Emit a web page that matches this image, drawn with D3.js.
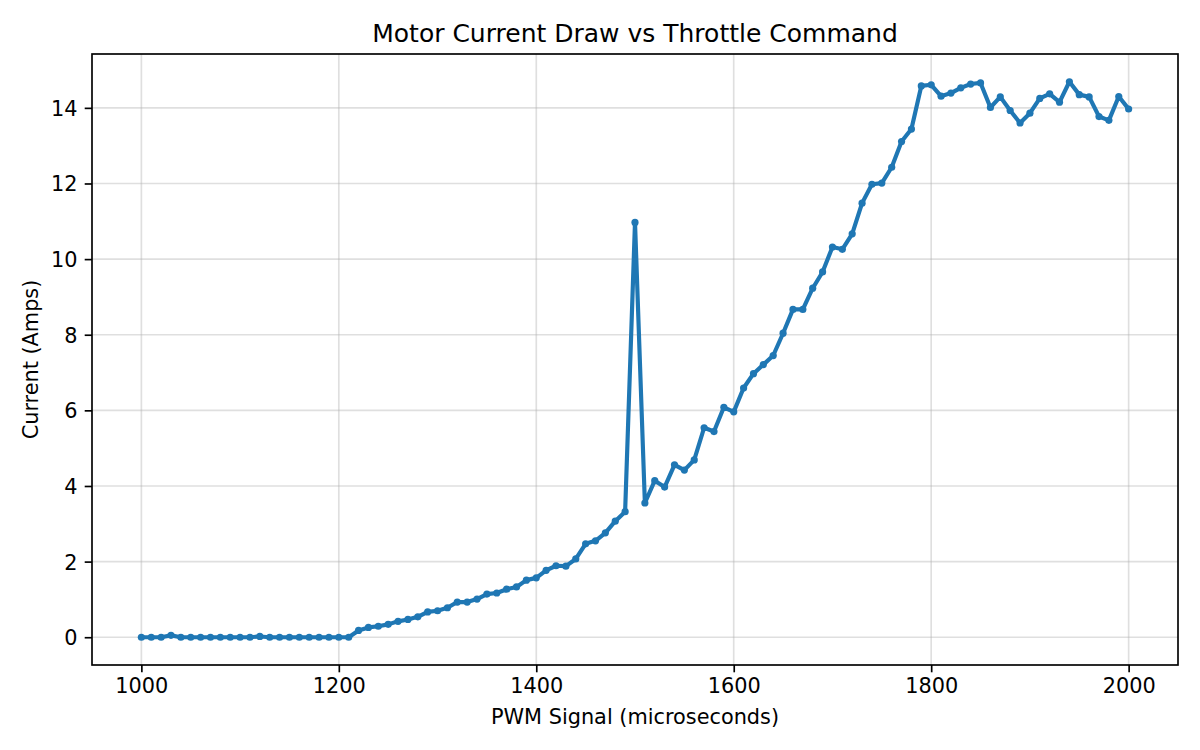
<!DOCTYPE html>
<html>
<head>
<meta charset="utf-8">
<script src="https://cdn.jsdelivr.net/npm/d3@7/dist/d3.min.js"></script>
<style>
  html, body { margin: 0; padding: 0; background: #fff; }
  svg { display: block; }
  text { font-family: "DejaVu Sans", sans-serif; fill: #000; }
</style>
</head>
<body>
<svg id="chart" width="1200" height="750"></svg>
<script>
// PWM signal (microseconds)
const pwm = [
  1000,1010,1020,1030,1040,1050,1060,1070,1080,1090,
  1100,1110,1120,1130,1140,1150,1160,1170,1180,1190,
  1200,1210,1220,1230,1240,1250,1260,1270,1280,1290,
  1300,1310,1320,1330,1340,1350,1360,1370,1380,1390,
  1400,1410,1420,1430,1440,1450,1460,1470,1480,1490,
  1500,1510,1520,1530,1540,1550,1560,1570,1580,1590,
  1600,1610,1620,1630,1640,1650,1660,1670,1680,1690,
  1700,1710,1720,1730,1740,1750,1760,1770,1780,1790,
  1800,1810,1820,1830,1840,1850,1860,1870,1880,1890,
  1900,1910,1920,1930,1940,1950,1960,1970,1980,1990,
  2000
];
// Current (Amps)
const current = [
  0.00,0.00,0.00,0.05,0.00,0.00,0.00,0.00,0.00,0.00,
  0.00,0.00,0.02,0.00,0.00,0.00,0.00,0.00,0.00,0.00,
  0.00,0.00,0.18,0.26,0.29,0.34,0.42,0.47,0.54,0.67,
  0.70,0.78,0.93,0.93,1.01,1.14,1.17,1.27,1.33,1.51,
  1.57,1.77,1.89,1.88,2.07,2.47,2.55,2.76,3.07,3.32,
  10.97,3.55,4.14,3.97,4.56,4.42,4.69,5.54,5.44,6.08,
  5.96,6.59,6.97,7.21,7.45,8.04,8.67,8.67,9.23,9.66,
  10.32,10.26,10.67,11.48,11.98,12.01,12.43,13.11,13.44,14.58,
  14.61,14.31,14.39,14.53,14.63,14.66,14.01,14.29,13.93,13.60,
  13.86,14.25,14.37,14.15,14.69,14.35,14.29,13.77,13.67,14.30,
  13.97
];
const xTicks = [1000, 1200, 1400, 1600, 1800, 2000];
const yTicks = [0, 2, 4, 6, 8, 10, 12, 14];
const titleText = "Motor Current Draw vs Throttle Command";
const xLabelText = "PWM Signal (microseconds)";
const yLabelText = "Current (Amps)";

const svg = d3.select("#chart");
const m = { left: 92, right: 1178, top: 54, bottom: 665 };

const xMin = d3.min(pwm), xMax = d3.max(pwm);
const yMin = d3.min(current), yMax = d3.max(current);
const xPad = (xMax - xMin) * 0.05, yPad = (yMax - yMin) * 0.05;

const x = d3.scaleLinear().domain([xMin - xPad, xMax + xPad]).range([m.left, m.right]);
const y = d3.scaleLinear().domain([yMin - yPad, yMax + yPad]).range([m.bottom, m.top]);

const fs = 20.83;

// grid
const grid = svg.append("g");
grid.selectAll(".gx").data(xTicks).enter().append("line")
  .attr("x1", d => x(d)).attr("x2", d => x(d))
  .attr("y1", m.top).attr("y2", m.bottom)
  .attr("stroke", "#b0b0b0").attr("stroke-opacity", 0.4).attr("stroke-width", 1.67);
grid.selectAll(".gy").data(yTicks).enter().append("line")
  .attr("x1", m.left).attr("x2", m.right)
  .attr("y1", d => y(d)).attr("y2", d => y(d))
  .attr("stroke", "#b0b0b0").attr("stroke-opacity", 0.4).attr("stroke-width", 1.67);

// axes
const xAxis = d3.axisBottom(x).tickValues(xTicks).tickSize(7.3).tickPadding(5.5).tickFormat(d3.format("d"));
const yAxis = d3.axisLeft(y).tickValues(yTicks).tickSize(7.3).tickPadding(7.3).tickFormat(d3.format("d"));

const gx = svg.append("g").attr("transform", `translate(0,${m.bottom})`).call(xAxis);
const gy = svg.append("g").attr("transform", `translate(${m.left},0)`).call(yAxis);
[gx, gy].forEach(g => {
  g.select(".domain").remove();
  g.selectAll(".tick line").attr("stroke", "#000").attr("stroke-width", 1.67);
  g.selectAll(".tick text").attr("font-size", fs).attr("font-family", "DejaVu Sans").attr("fill", "#000");
});
gy.selectAll(".tick text").attr("dy", "0.36em");

// data line
const pts = pwm.map((p, i) => [p, current[i]]);
const line = d3.line().x(d => x(d[0])).y(d => y(d[1]));
svg.append("path").datum(pts)
  .attr("d", line).attr("fill", "none")
  .attr("stroke", "#1f77b4").attr("stroke-width", 4.17)
  .attr("stroke-linejoin", "round").attr("stroke-linecap", "square");
svg.append("g").selectAll("circle").data(pts).enter().append("circle")
  .attr("cx", d => x(d[0])).attr("cy", d => y(d[1])).attr("r", 3.6)
  .attr("fill", "#1f77b4");

// frame
svg.append("rect")
  .attr("x", m.left).attr("y", m.top)
  .attr("width", m.right - m.left).attr("height", m.bottom - m.top)
  .attr("fill", "none").attr("stroke", "#000").attr("stroke-width", 1.67);

// title and labels
svg.append("text").attr("x", (m.left + m.right) / 2).attr("y", 42)
  .attr("text-anchor", "middle").attr("font-size", 25).text(titleText);
svg.append("text").attr("x", (m.left + m.right) / 2).attr("y", 724)
  .attr("text-anchor", "middle").attr("font-size", fs).text(xLabelText);
svg.append("text").attr("transform", `translate(38,${(m.top + m.bottom) / 2}) rotate(-90)`)
  .attr("text-anchor", "middle").attr("font-size", fs).text(yLabelText);
</script>
</body>
</html>
